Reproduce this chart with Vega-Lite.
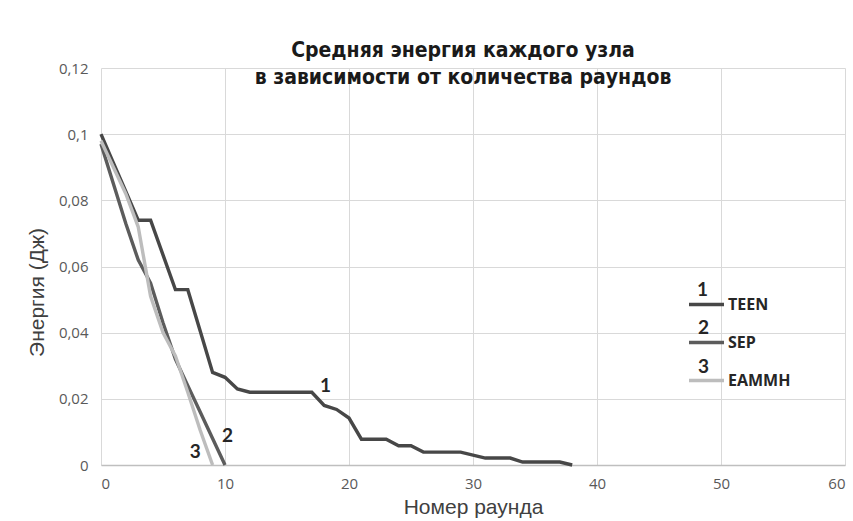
{
  "$schema": "https://vega.github.io/schema/vega-lite/v6.json",
  "autosize": {"type": "none"},
  "width": 744,
  "height": 397,
  "padding": {"left": 101, "top": 68, "right": 8, "bottom": 56},
  "background": "white",
  "title": {
    "text": ["Средняя энергия каждого узла", "в зависимости от количества раундов"],
    "font": "Liberation Sans Narrow, DejaVu Sans Condensed",
    "fontSize": 21,
    "fontWeight": "bold",
    "color": "#1a1a1a",
    "lineHeight": 27,
    "anchor": "middle",
    "frame": "group",
    "dx": -10,
    "offset": -27
  },
  "datasets": {
    "energy": [
      {"series": "TEEN", "round": 0, "energy": 0.1},
      {"series": "TEEN", "round": 1, "energy": 0.0913},
      {"series": "TEEN", "round": 2, "energy": 0.0827},
      {"series": "TEEN", "round": 3, "energy": 0.074},
      {"series": "TEEN", "round": 4, "energy": 0.074},
      {"series": "TEEN", "round": 5, "energy": 0.0635},
      {"series": "TEEN", "round": 6, "energy": 0.053},
      {"series": "TEEN", "round": 7, "energy": 0.053},
      {"series": "TEEN", "round": 8, "energy": 0.0405},
      {"series": "TEEN", "round": 9, "energy": 0.028},
      {"series": "TEEN", "round": 10, "energy": 0.0265},
      {"series": "TEEN", "round": 11, "energy": 0.023},
      {"series": "TEEN", "round": 12, "energy": 0.022},
      {"series": "TEEN", "round": 17, "energy": 0.022},
      {"series": "TEEN", "round": 18, "energy": 0.018},
      {"series": "TEEN", "round": 19, "energy": 0.0168},
      {"series": "TEEN", "round": 20, "energy": 0.0142},
      {"series": "TEEN", "round": 21, "energy": 0.0078},
      {"series": "TEEN", "round": 23, "energy": 0.0078},
      {"series": "TEEN", "round": 24, "energy": 0.0058},
      {"series": "TEEN", "round": 25, "energy": 0.0058},
      {"series": "TEEN", "round": 26, "energy": 0.0039},
      {"series": "TEEN", "round": 29, "energy": 0.0039},
      {"series": "TEEN", "round": 31, "energy": 0.0021},
      {"series": "TEEN", "round": 33, "energy": 0.0021},
      {"series": "TEEN", "round": 34, "energy": 0.0009},
      {"series": "TEEN", "round": 37, "energy": 0.0009},
      {"series": "TEEN", "round": 38, "energy": 0},
      {"series": "SEP", "round": 0, "energy": 0.097},
      {"series": "SEP", "round": 1, "energy": 0.085},
      {"series": "SEP", "round": 2, "energy": 0.073},
      {"series": "SEP", "round": 3, "energy": 0.062},
      {"series": "SEP", "round": 4, "energy": 0.055},
      {"series": "SEP", "round": 5, "energy": 0.043},
      {"series": "SEP", "round": 6, "energy": 0.032},
      {"series": "SEP", "round": 7, "energy": 0.024},
      {"series": "SEP", "round": 8, "energy": 0.016},
      {"series": "SEP", "round": 9, "energy": 0.008},
      {"series": "SEP", "round": 10, "energy": 0},
      {"series": "EAMMH", "round": 0, "energy": 0.098},
      {"series": "EAMMH", "round": 1, "energy": 0.09},
      {"series": "EAMMH", "round": 2, "energy": 0.082},
      {"series": "EAMMH", "round": 3, "energy": 0.072},
      {"series": "EAMMH", "round": 4, "energy": 0.051},
      {"series": "EAMMH", "round": 5, "energy": 0.04},
      {"series": "EAMMH", "round": 6, "energy": 0.033},
      {"series": "EAMMH", "round": 7, "energy": 0.022},
      {"series": "EAMMH", "round": 8, "energy": 0.0105},
      {"series": "EAMMH", "round": 9, "energy": 0}
    ],
    "notes": [
      {"label": "1", "round": 18.1, "energy": 0.0238},
      {"label": "2", "round": 10.2, "energy": 0.0087},
      {"label": "3", "round": 7.6, "energy": 0.0039},
      {"label": "1", "round": 48.5, "energy": 0.053},
      {"label": "2", "round": 48.6, "energy": 0.0413},
      {"label": "3", "round": 48.6, "energy": 0.0296}
    ]
  },
  "layer": [
    {
      "data": {"name": "energy"},
      "mark": {"type": "line", "strokeWidth": 3.4, "strokeJoin": "miter"},
      "encoding": {
        "x": {
          "field": "round",
          "type": "quantitative",
          "scale": {"domain": [0, 60], "nice": false},
          "axis": {
            "title": "Номер раунда",
            "values": [0, 10, 20, 30, 40, 50, 60],
            "grid": true,
            "gridColor": "#d9d9d9",
            "domain": true,
            "domainColor": "#bfbfbf",
            "domainWidth": 1.5,
            "ticks": false,
            "labelPadding": 11,
            "titlePadding": 5
          }
        },
        "y": {
          "field": "energy",
          "type": "quantitative",
          "scale": {"domain": [0, 0.12], "nice": false},
          "axis": {
            "title": "Энергия (Дж)",
            "values": [0, 0.02, 0.04, 0.06, 0.08, 0.1, 0.12],
            "labelExpr": "replace(format(datum.value, '~g'), '.', ',')",
            "grid": true,
            "gridColor": "#d9d9d9",
            "domain": false,
            "ticks": false,
            "labelPadding": 13,
            "titleX": -64,
            "titleY": 224,
            "titleAlign": "center",
            "titleBaseline": "middle",
            "titleAngle": -90
          }
        },
        "color": {
          "field": "series",
          "type": "nominal",
          "scale": {"domain": ["TEEN", "SEP", "EAMMH"], "range": ["#474747", "#5c5c5c", "#bdbdbd"]},
          "legend": {
            "title": null,
            "orient": "none",
            "legendX": 586,
            "legendY": 217,
            "direction": "vertical",
            "symbolType": "stroke",
            "symbolSize": 1225,
            "symbolStrokeWidth": 3.5,
            "rowPadding": 10,
            "labelOffset": 2,
            "labelFont": "Open Sans",
            "labelFontSize": 16,
            "labelFontWeight": "bold",
            "labelColor": "#262626"
          }
        }
      }
    },
    {
      "data": {"name": "notes"},
      "mark": {"type": "text", "font": "Lato", "fontSize": 19, "fontWeight": "bold", "color": "#262626", "baseline": "middle", "align": "center"},
      "encoding": {
        "x": {"field": "round", "type": "quantitative"},
        "y": {"field": "energy", "type": "quantitative"},
        "text": {"field": "label"}
      }
    }
  ],
  "config": {
    "view": {"stroke": null},
    "axis": {
      "labelFont": "Open Sans",
      "labelFontSize": 15,
      "labelColor": "#595959",
      "titleFont": "Liberation Sans",
      "titleFontSize": 21,
      "titleFontWeight": "normal",
      "titleColor": "#404040"
    }
  }
}
